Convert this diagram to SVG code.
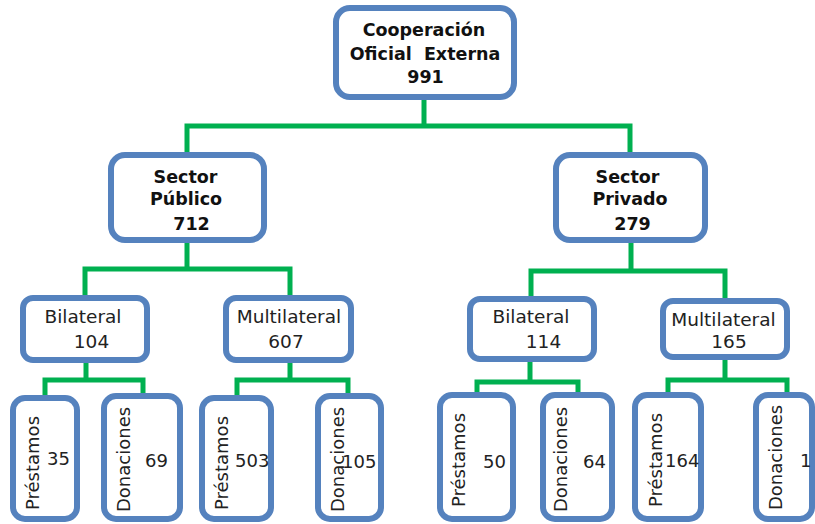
<svg xmlns="http://www.w3.org/2000/svg" width="815" height="524" viewBox="0 0 815 524">
<style>
.box{fill:#ffffff;stroke:#5582BE;stroke-width:6}
.con{fill:none;stroke:#00B050;stroke-width:5;stroke-linejoin:miter;stroke-linecap:butt}
.b{font-family:"DejaVu Sans","Liberation Sans",sans-serif;font-weight:bold;font-size:17.5px;fill:#111;text-anchor:middle}
.m{font-family:"DejaVu Sans","Liberation Sans",sans-serif;font-size:18.5px;fill:#222;text-anchor:middle}
.l{font-family:"DejaVu Sans","Liberation Sans",sans-serif;font-size:18px;fill:#222}
</style>
<rect width="815" height="524" fill="#ffffff"/>
<g id="connectors">
<path class="con" d="M424 97V126M187 155V126H630V155"/>
<path class="con" d="M187 240V269M85 298V269H290V298"/>
<path class="con" d="M631 240V271M531 299V271H725V301"/>
<path class="con" d="M86 360V380M45 398V380H143V396"/>
<path class="con" d="M290 360V380M237 398V380H348V396"/>
<path class="con" d="M530 359V382M477 395V382H578V395"/>
<path class="con" d="M725 357V380M668 395V380H787V395"/>
</g>
<g id="n-root">
<rect class="box" x="336" y="8" width="178" height="89" rx="14"/>
<text class="b" x="424" y="36">Cooperación</text>
<text class="b" x="425" y="60" xml:space="preserve">Oficial  Externa</text>
<text class="b" x="425.5" y="83">991</text>
</g>
<g id="n-publico">
<rect class="box" x="111" y="155" width="153" height="85" rx="14"/>
<text class="b" x="185.5" y="183">Sector</text>
<text class="b" x="186" y="205">Público</text>
<text class="b" x="191.5" y="230">712</text>
</g>
<g id="n-privado">
<rect class="box" x="556" y="155" width="149" height="85" rx="14"/>
<text class="b" x="627.5" y="183">Sector</text>
<text class="b" x="630" y="205">Privado</text>
<text class="b" x="632.5" y="230">279</text>
</g>
<g id="n-bil-pub">
<rect class="box" x="23" y="298" width="124" height="62" rx="10"/>
<text class="m" x="83" y="323">Bilateral</text>
<text class="m" x="91.5" y="348">104</text>
</g>
<g id="n-mul-pub">
<rect class="box" x="226" y="298" width="125" height="62" rx="10"/>
<text class="m" x="289" y="323">Multilateral</text>
<text class="m" x="286" y="348">607</text>
</g>
<g id="n-bil-priv">
<rect class="box" x="470" y="299" width="124" height="60" rx="10"/>
<text class="m" x="531" y="323">Bilateral</text>
<text class="m" x="543.5" y="348">114</text>
</g>
<g id="n-mul-priv">
<rect class="box" x="663" y="301" width="124" height="56" rx="10"/>
<text class="m" x="723.5" y="326">Multilateral</text>
<text class="m" x="729" y="348">165</text>
</g>
<g id="n-pre-bil-pub">
<rect class="box" x="13" y="398" width="64" height="121" rx="12"/>
<text class="l" transform="translate(39,510) rotate(-90)">Préstamos</text>
<text class="l" x="47" y="465">35</text>
</g>
<g id="n-don-bil-pub">
<rect class="box" x="104" y="396" width="76" height="123" rx="12"/>
<text class="l" transform="translate(130,512) rotate(-90)">Donaciones</text>
<text class="l" x="145" y="467">69</text>
</g>
<g id="n-pre-mul-pub">
<rect class="box" x="202" y="398" width="69" height="121" rx="12"/>
<text class="l" transform="translate(228,510) rotate(-90)">Préstamos</text>
<text class="l" x="235" y="467">503</text>
</g>
<g id="n-don-mul-pub">
<rect class="box" x="318" y="396" width="63" height="123" rx="12"/>
<text class="l" transform="translate(344,512) rotate(-90)">Donaciones</text>
<text class="l" x="342" y="468">105</text>
</g>
<g id="n-pre-bil-priv">
<rect class="box" x="440" y="395" width="73" height="124" rx="12"/>
<text class="l" transform="translate(465,507) rotate(-90)">Préstamos</text>
<text class="l" x="483" y="468">50</text>
</g>
<g id="n-don-bil-priv">
<rect class="box" x="543" y="395" width="69" height="124" rx="12"/>
<text class="l" transform="translate(567,512) rotate(-90)">Donaciones</text>
<text class="l" x="583" y="468">64</text>
</g>
<g id="n-pre-mul-priv">
<rect class="box" x="635" y="395" width="66" height="124" rx="12"/>
<text class="l" transform="translate(662,507) rotate(-90)">Préstamos</text>
<text class="l" x="665" y="467">164</text>
</g>
<g id="n-don-mul-priv">
<rect class="box" x="756" y="395" width="56" height="124" rx="12"/>
<text class="l" transform="translate(782,510) rotate(-90)">Donaciones</text>
<text class="l" x="800" y="467">1</text>
</g>
</svg>
